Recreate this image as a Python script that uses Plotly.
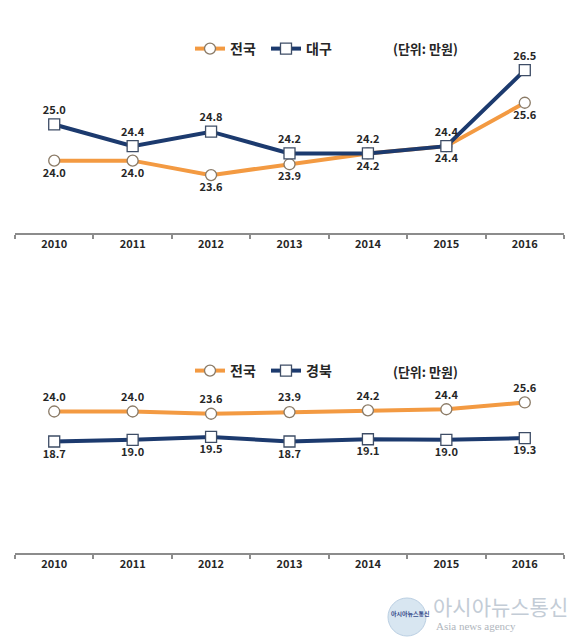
import plotly.graph_objects as go

# values, unit: 만원
years = ["2010", "2011", "2012", "2013", "2014", "2015", "2016"]
nation = [24.0, 24.0, 23.6, 23.9, 24.2, 24.4, 25.6]
daegu = [25.0, 24.4, 24.8, 24.2, 24.2, 24.4, 26.5]
gyeongbuk = [18.7, 19.0, 19.5, 18.7, 19.1, 19.0, 19.3]

ORANGE = "#F39A42"
NAVY = "#1C3A6E"
GREY = "#8c8c8c"
FONT = "Noto Sans CJK KR"

# the page body has an 8px margin, so the figure is a bit smaller and
# screen positions are converted to paper fractions here
W, H, OFF = 572, 633, 8


def px(sx):
    return (sx - OFF) / W


def py(sy):
    return 1 - (sy - OFF) / H


xs = list(range(len(years)))
lab = dict(family=FONT, size=11, color="#262626", weight="bold")

fig = go.Figure()


def add_line(vals, name, color, symbol, pos, xa, ya, legend):
    fig.add_trace(go.Scatter(
        x=xs, y=vals, name=name, mode="lines+markers+text",
        line=dict(color=color, width=4),
        marker=dict(symbol=symbol, size=11, color="white",
                    line=dict(color="#8a7a66" if symbol == "circle" else "#3e4d66", width=1.3)),
        text=[f"{v:.1f}" for v in vals], textposition=pos, textfont=lab,
        xaxis=xa, yaxis=ya, legend=legend, cliponaxis=False))


# top: 전국 vs 대구
add_line(nation, "전국", ORANGE, "circle", "bottom center", "x", "y", "legend")
add_line(daegu, "대구", NAVY, "square", "top center", "x", "y", "legend")
# bottom: 전국 vs 경북
add_line(nation, "전국", ORANGE, "circle", "top center", "x2", "y2", "legend2")
add_line(gyeongbuk, "경북", NAVY, "square", "bottom center", "x2", "y2", "legend2")

xdom = [px(15), px(564)]
xbase = dict(range=[-0.5, 6.5], domain=xdom, showgrid=False, zeroline=False,
             fixedrange=True)
xmain = dict(xbase, tickmode="array", tickvals=xs, ticktext=years, ticks="",
             showline=True, linecolor=GREY, linewidth=1.5,
             tickfont=dict(family=FONT, size=11, color="#262626", weight="bold"),
             minor=dict(tickmode="linear", tick0=-0.5, dtick=1, ticks="outside",
                        ticklen=4, tickcolor=GREY, tickwidth=1.5))
xin = dict(xbase, tickmode="linear", tick0=-0.5, dtick=1, ticks="inside", ticklen=4,
           tickcolor=GREY, tickwidth=1.5, showticklabels=False, showline=False)

legfont = dict(family=FONT, size=14, color="#262626", weight="bold")
leg = dict(orientation="h", yanchor="middle", xanchor="left", font=legfont,
           bgcolor="rgba(0,0,0,0)", entrywidth=31, entrywidthmode="pixels",
           traceorder="normal", tracegroupgap=0)

fig.update_layout(
    width=W, height=H,
    margin=dict(l=0, r=0, t=0, b=0),
    paper_bgcolor="white", plot_bgcolor="white",
    font=dict(family=FONT),
    xaxis=dict(xmain, anchor="y"),
    xaxis3=dict(xin, anchor="y", overlaying="x"),
    yaxis=dict(domain=[py(233), py(34)], range=[22, 27.5], visible=False,
               fixedrange=True),
    xaxis2=dict(xmain, anchor="y2"),
    xaxis4=dict(xin, anchor="y2", overlaying="x2"),
    yaxis2=dict(domain=[py(553), py(360)], range=[-1.0, 33.1], visible=False,
                fixedrange=True),
    legend=dict(leg, x=px(190), y=py(49)),
    legend2=dict(leg, x=px(190), y=py(371)),
    showlegend=True,
)

unit = dict(family=FONT, size=13, color="#262626", weight="bold")
for uy in (49, 371):
    fig.add_annotation(text="(단위: 만원)", x=px(391), y=py(uy), xref="paper",
                       yref="paper", xanchor="left", yanchor="middle", showarrow=False,
                       font=unit)

# watermark, bottom right
fig.add_shape(type="circle", xref="paper", yref="paper",
              x0=px(388), x1=px(426), y0=py(636), y1=py(598),
              fillcolor="#cfe0ee", line=dict(color="#aac4dc", width=1), opacity=0.8)
fig.add_annotation(text="아시아뉴스통신", x=px(389), y=py(613), xref="paper",
                   yref="paper", xanchor="left", yanchor="middle", showarrow=False,
                   font=dict(family=FONT, size=6, color="#3a4d8c", weight="bold"))
fig.add_annotation(text="아시아뉴스통신", x=px(431), y=py(606), xref="paper",
                   yref="paper", xanchor="left", yanchor="middle", showarrow=False,
                   font=dict(family=FONT, size=21, color="#c3ccd6"))
fig.add_annotation(text="Asia news agency", x=px(434), y=py(626), xref="paper",
                   yref="paper", xanchor="left", yanchor="middle", showarrow=False,
                   font=dict(family="Liberation Serif", size=11, color="#b0b6bd"))

fig.write_html("out.html")
